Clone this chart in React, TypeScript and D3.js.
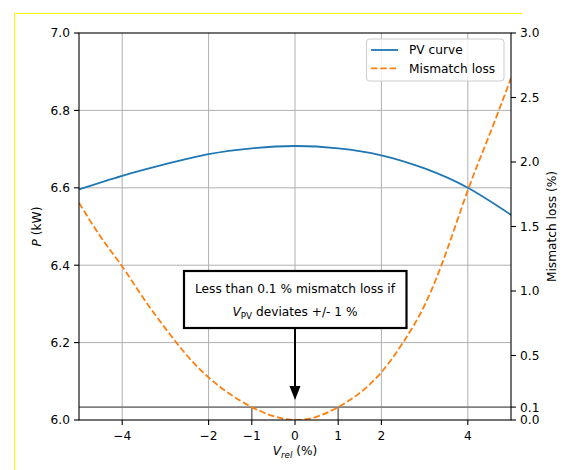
import React from "react";
import * as d3 from "d3";

const vrelPV = [-5, -4, -3, -2, -1, 0, 1, 2, 3, 4, 5];
const pvPower = [6.596, 6.631, 6.661, 6.687, 6.702, 6.708, 6.702, 6.684, 6.650, 6.600, 6.530];

const vrelLoss = [-5, -4.5, -4, -3.5, -3, -2.5, -2, -1.5, -1, -0.5, 0, 0.5, 1, 1.5, 2, 2.5, 3, 3.5, 4, 4.5, 5];
const lossPct = [1.684, 1.42, 1.19, 0.94, 0.71, 0.5, 0.33, 0.2, 0.1, 0.03, 0.0, 0.025, 0.1, 0.21, 0.37, 0.6, 0.89, 1.3, 1.78, 2.21, 2.65];

const xTicks = [-4, -2, -1, 0, 1, 2, 4];
const xGridTicks = [-4, -2, 0, 2, 4];
const yLeftTicks = [6.0, 6.2, 6.4, 6.6, 6.8, 7.0];
const yRightTicks = [0.0, 0.1, 0.5, 1.0, 1.5, 2.0, 2.5, 3.0];
const thresholdLoss = 0.1;
const thresholdV = [-1, 1];

const FONT = "DejaVu Sans";
const FS = 12.2;

export default function App() {
  const left = 79, right = 511, top = 33, bottom = 420;
  const x = d3.scaleLinear().domain([-5, 5]).range([left, right]);
  const yL = d3.scaleLinear().domain([6, 7]).range([bottom, top]);
  const yR = d3.scaleLinear().domain([0, 3]).range([bottom, top]);

  const pvLine = d3
    .line<number>()
    .x((_, i) => x(vrelPV[i]))
    .y((d) => yL(d))
    .curve(d3.curveNatural)(pvPower) as string;

  const lossLine = d3
    .line<number>()
    .x((_, i) => x(vrelLoss[i]))
    .y((d) => yR(d))
    .curve(d3.curveNatural)(lossPct) as string;

  const fmtMinus = (v: number) => (v < 0 ? "\u2212" + Math.abs(v) : String(v));
  const yThr = yR(thresholdLoss);
  const cx = x(0);

  return (
    <div style={{ position: "fixed", left: 0, top: 0 }}>
      <svg width={564} height={470} style={{ display: "block", background: "#fff" }} fontFamily={FONT}>
        <path d="M14.5,470 L14.5,13.5 L522,13.5" fill="none" stroke="#ffff00" strokeWidth={1} />
        <defs>
          <clipPath id="plotclip">
            <rect x={left} y={top} width={right - left} height={bottom - top} />
          </clipPath>
        </defs>
        {xGridTicks.map((t) => (
          <line key={"gx" + t} x1={x(t)} x2={x(t)} y1={top} y2={bottom} stroke="#b0b0b0" strokeWidth={1} />
        ))}
        {yLeftTicks.slice(1, -1).map((t) => (
          <line key={"gy" + t} x1={left} x2={right} y1={yL(t)} y2={yL(t)} stroke="#b0b0b0" strokeWidth={1} />
        ))}
        <line x1={left} x2={right} y1={yThr} y2={yThr} stroke="#808080" strokeWidth={1.7} />
        {thresholdV.map((v) => (
          <line key={"tv" + v} x1={x(v)} x2={x(v)} y1={yThr} y2={bottom} stroke="#808080" strokeWidth={1.7} />
        ))}
        <g clipPath="url(#plotclip)">
          <path d={pvLine} fill="none" stroke="#1f77b4" strokeWidth={1.8} />
          <path d={lossLine} fill="none" stroke="#ff7f0e" strokeWidth={1.8} strokeDasharray="6.5,2.8" />
        </g>
        <rect x={left} y={top} width={right - left} height={bottom - top} fill="none" stroke="#000" strokeWidth={1.1} />
        {xTicks.map((t) => (
          <g key={"xt" + t}>
            <line x1={x(t)} x2={x(t)} y1={bottom} y2={bottom + 5} stroke="#000" strokeWidth={1.1} />
            <text x={x(t)} y={439.5} fontSize={FS} textAnchor="middle" fill="#000">
              {fmtMinus(t)}
            </text>
          </g>
        ))}
        {yLeftTicks.map((t) => (
          <g key={"yl" + t}>
            <line x1={left - 5} x2={left} y1={yL(t)} y2={yL(t)} stroke="#000" strokeWidth={1.1} />
            <text x={left - 9} y={yL(t) + 4.4} fontSize={FS} textAnchor="end" fill="#000">
              {t.toFixed(1)}
            </text>
          </g>
        ))}
        {yRightTicks.map((t) => (
          <g key={"yr" + t}>
            <line x1={right} x2={right + 5} y1={yR(t)} y2={yR(t)} stroke="#000" strokeWidth={1.1} />
            <text x={right + 9} y={yR(t) + 4.4} fontSize={FS} textAnchor="start" fill="#000">
              {t.toFixed(1)}
            </text>
          </g>
        ))}
        <text x={cx} y={455} fontSize={FS} textAnchor="middle" fill="#000">
          <tspan fontStyle="italic">V</tspan>
          <tspan fontStyle="italic" fontSize={FS * 0.72} dy={3}>rel</tspan>
          <tspan dy={-3}> (%)</tspan>
        </text>
        <text transform={`translate(41,${(top + bottom) / 2}) rotate(-90)`} fontSize={FS} textAnchor="middle" fill="#000">
          <tspan fontStyle="italic">P</tspan>
          <tspan> (kW)</tspan>
        </text>
        <text transform={`translate(556,${(top + bottom) / 2}) rotate(-90)`} fontSize={FS} textAnchor="middle" fill="#000">
          Mismatch loss (%)
        </text>
        <line x1={cx} x2={cx} y1={329} y2={388} stroke="#000" strokeWidth={2} />
        <path d={`M${cx - 5.5},386 L${cx + 5.5},386 L${cx},400 Z`} fill="#000" />
        <rect x={184} y={271} width={222.5} height={57} fill="#fff" stroke="#000" strokeWidth={2.2} />
        <text x={cx} y={292.5} fontSize={FS} textAnchor="middle" fill="#000">
          Less than 0.1 % mismatch loss if
        </text>
        <text x={cx} y={315.5} fontSize={FS} textAnchor="middle" fill="#000">
          <tspan fontStyle="italic">V</tspan>
          <tspan fontSize={FS * 0.72} dy={3}>PV</tspan>
          <tspan dy={-3}> deviates +/- 1 %</tspan>
        </text>
        <rect x={366.5} y={39} width={137.5} height={42} rx={3} fill="#fff" fillOpacity={0.8} stroke="#cccccc" strokeWidth={1} />
        <line x1={371} x2={398} y1={50} y2={50} stroke="#1f77b4" strokeWidth={1.8} />
        <text x={409} y={54.3} fontSize={FS} fill="#000">PV curve</text>
        <line x1={371} x2={398} y1={68.3} y2={68.3} stroke="#ff7f0e" strokeWidth={1.8} strokeDasharray="6.5,2.8" />
        <text x={409} y={72.6} fontSize={FS} fill="#000">Mismatch loss</text>
      </svg>
    </div>
  );
}
